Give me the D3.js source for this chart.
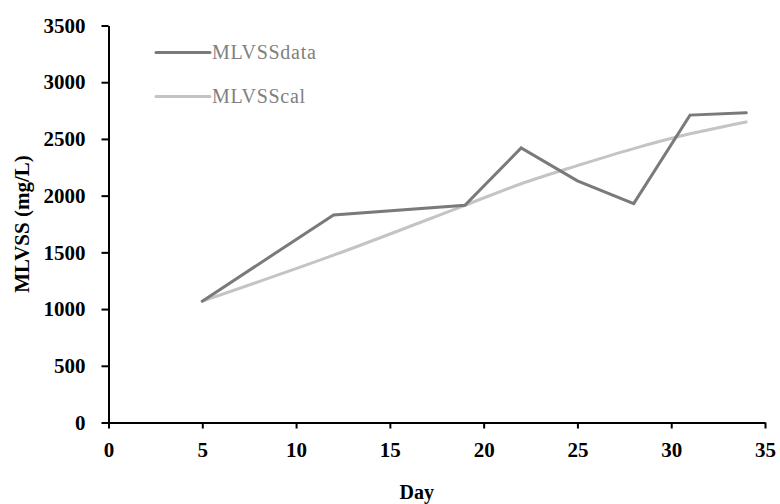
<!DOCTYPE html>
<html>
<head>
<meta charset="utf-8">
<script src="https://cdn.jsdelivr.net/npm/d3@7"></script>
<style>
  html, body { margin: 0; padding: 0; background: #fff; }
  svg { display: block; }
</style>
</head>
<body>
<svg id="chart" width="780" height="504"></svg>
<script>
// Sampling days and MLVSS concentrations (mg/L)
const days = [5, 12, 19, 22, 25, 28, 31, 34];
const mlvssData = [1070, 1830, 1915, 2420, 2130, 1930, 2710, 2730];
const mlvssCal = [1070, 1475, 1915, 2105, 2265, 2415, 2545, 2650];
const seriesNames = ["MLVSSdata", "MLVSScal"];
const seriesColors = ["#7a7a7a", "#c4c4c4"];
const xTicks = [0, 5, 10, 15, 20, 25, 30, 35];
const yTicks = [0, 500, 1000, 1500, 2000, 2500, 3000, 3500];

const svg = d3.select("#chart");
const font = "'Liberation Serif', 'Times New Roman', serif";

const x = d3.scaleLinear().domain([0, 35]).range([108.5, 765]);
const y = d3.scaleLinear().domain([0, 3500]).range([422.5, 25.5]);

// Axes
const xAxis = svg.append("g")
  .attr("transform", `translate(0,${y(0)})`)
  .call(d3.axisBottom(x).tickValues(xTicks).tickFormat(d3.format("d"))
    .tickSize(6).tickPadding(14).tickSizeOuter(0));
const yAxis = svg.append("g")
  .attr("transform", `translate(${x(0)},0)`)
  .call(d3.axisLeft(y).tickValues(yTicks).tickFormat(d3.format("d"))
    .tickSize(7).tickPadding(16).tickSizeOuter(0));

[xAxis, yAxis].forEach(g => {
  g.select(".domain").attr("stroke", "#000").attr("stroke-width", 2);
  g.selectAll(".tick line").attr("stroke", "#000").attr("stroke-width", 2);
  g.selectAll(".tick text")
    .attr("fill", "#000")
    .style("font-family", font)
    .style("font-weight", "bold")
    .style("font-size", "21px");
});

// Axis titles
svg.append("text")
  .attr("x", x(17.5) - 20)
  .attr("y", 499)
  .attr("text-anchor", "middle")
  .style("font-family", font)
  .style("font-weight", "bold")
  .style("font-size", "20px")
  .text("Day");

svg.append("text")
  .attr("transform", `translate(29,224) rotate(-90)`)
  .attr("text-anchor", "middle")
  .style("font-family", font)
  .style("font-weight", "bold")
  .style("font-size", "21px")
  .text("MLVSS (mg/L)");

// Lines
const line = d3.line()
  .x((d, i) => x(days[i]))
  .y(d => y(d));
const smooth = d3.line()
  .x((d, i) => x(days[i]))
  .y(d => y(d))
  .curve(d3.curveMonotoneX);

svg.append("path")
  .datum(mlvssCal)
  .attr("d", smooth)
  .attr("fill", "none")
  .attr("stroke", seriesColors[1])
  .attr("stroke-width", 3)
  .attr("stroke-linecap", "round")
  .attr("stroke-linejoin", "round");

svg.append("path")
  .datum(mlvssData)
  .attr("d", line)
  .attr("fill", "none")
  .attr("stroke", seriesColors[0])
  .attr("stroke-width", 3)
  .attr("stroke-linecap", "round")
  .attr("stroke-linejoin", "miter");

// Legend
const legend = svg.append("g");
seriesNames.forEach((name, i) => {
  const ly = 52.5 + i * 44;
  legend.append("line")
    .attr("x1", 156).attr("x2", 210)
    .attr("y1", ly).attr("y2", ly)
    .attr("stroke", seriesColors[i])
    .attr("stroke-width", 3)
    .attr("stroke-linecap", "round");
  legend.append("text")
    .attr("x", 212)
    .attr("y", ly + 6.5)
    .attr("fill", "#808080")
    .style("font-family", font)
    .style("font-size", "20px")
    .style("letter-spacing", "0.7px")
    .text(name);
});
</script>
</body>
</html>
